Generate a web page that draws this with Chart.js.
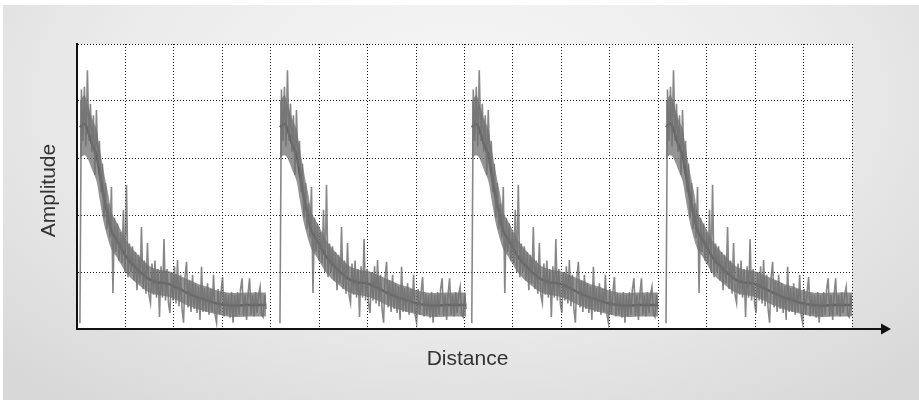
<!DOCTYPE html>
<html>
<head>
<meta charset="utf-8">
<script src="https://cdn.jsdelivr.net/npm/chart.js@4.4.1/dist/chart.umd.min.js"></script>
<style>
  html, body { margin: 0; padding: 0; }
  body {
    width: 919px; height: 400px; overflow: hidden;
    background:
      linear-gradient(#fff, #fff) top left / 100% 5px no-repeat,
      linear-gradient(#fff, #fff) top left / 3px 100% no-repeat,
      radial-gradient(ellipse 70% 95% at 50% 25%, #f7f7f7 0%, #ebebeb 55%, #d8d8d8 100%);
  }
  #box { position: absolute; left: 0; top: 0; width: 919px; height: 400px; }
</style>
</head>
<body>
<div id="box"><canvas id="echoChart" width="919" height="400"></canvas></div>
<script>
// one echo trace (the picture repeats it four times) in grid units 0..5
const cycleStarts = [0.06, 4.19, 8.15, 12.16];
const sampleStep = 0.031;
const echoValues = [
    0.10, 4.20, 3.30, 4.25, 3.20, 4.54, 3.30, 3.95, 3.10, 3.75,
    2.70, 3.84, 2.85, 3.30, 2.40, 2.90, 1.95, 2.56, 1.75, 2.20,
    1.60, 2.49, 0.63, 1.95, 1.35, 1.85, 1.20, 1.70, 1.16, 2.09,
    1.00, 2.53, 0.91, 1.50, 1.00, 1.45, 0.85, 1.35, 0.68, 1.30,
    0.80, 1.79, 0.70, 1.20, 0.62, 1.51, 0.60, 0.46, 1.15, 0.60,
    1.20, 0.55, 1.05, 0.21, 1.10, 0.55, 1.58, 0.50, 1.05, 0.45,
    0.28, 1.00, 0.50, 1.10, 0.45, 1.21, 0.40, 0.95, 0.35, 0.11,
    0.90, 1.18, 0.38, 0.85, 0.30, 0.95, 0.35, 0.80, 0.28, 0.75,
    0.16, 1.09, 0.30, 0.72, 0.30, 0.80, 0.25, 0.70, 0.30, 0.95,
    0.25, 0.11, 0.70, 0.25, 0.65, 0.91, 0.22, 0.62, 0.25, 0.60,
    0.20, 0.65, 0.11, 0.60, 0.22, 0.65, 0.25, 0.70, 0.89, 0.22,
    0.60, 0.16, 0.62, 0.89, 0.25, 0.60, 0.22, 0.65, 0.28, 0.60,
    0.74, 0.25, 0.21, 0.60, 0.35
];
// smoothed envelope (dark line) and the dense grey band around it, sample index -> value
const trendIndex = [0, 3, 5, 8, 11, 13, 16, 19, 21, 24, 27, 31, 37, 45, 51, 58, 65, 71, 78, 85, 91, 98, 105, 111, 118, 124];
const trendValues = [3.54, 3.60, 3.50, 3.25, 3.05, 2.74, 2.30, 1.95, 1.72, 1.58, 1.45, 1.26, 1.08, 0.89, 0.82, 0.80, 0.72, 0.64, 0.56, 0.50, 0.45, 0.42, 0.41, 0.42, 0.42, 0.42];
const bandUpper = [4.00, 4.10, 3.95, 3.70, 3.50, 3.20, 2.75, 2.35, 2.05, 1.90, 1.75, 1.55, 1.35, 1.13, 1.05, 1.02, 0.95, 0.88, 0.80, 0.74, 0.68, 0.64, 0.63, 0.64, 0.64, 0.64];
const bandLower = [3.00, 3.05, 3.00, 2.80, 2.60, 2.30, 1.85, 1.55, 1.40, 1.28, 1.15, 0.98, 0.82, 0.66, 0.60, 0.57, 0.50, 0.42, 0.35, 0.30, 0.26, 0.22, 0.21, 0.22, 0.22, 0.22];

const xMax = 16;
const yMax = 5;

function cyclePoints(start, indexes, values) {
    return values.map((v, i) => ({ x: start + indexes[i] * sampleStep, y: v }));
}

function buildSeries(indexes, values) {
    const out = [];
    cycleStarts.forEach((start) => {
        out.push(...cyclePoints(start, indexes, values));
        out.push({ x: start + 3.9, y: null });
    });
    return out;
}

const echoData = buildSeries(echoValues.map((_, i) => i), echoValues);
const trendData = buildSeries(trendIndex, trendValues);

const bandDatasets = [];
cycleStarts.forEach((start) => {
    bandDatasets.push({
        label: 'band low',
        data: cyclePoints(start, trendIndex, bandLower),
        borderWidth: 0,
        pointRadius: 0,
        tension: 0.3,
        fill: false
    });
    bandDatasets.push({
        label: 'band high',
        data: cyclePoints(start, trendIndex, bandUpper),
        borderWidth: 0,
        pointRadius: 0,
        tension: 0.3,
        backgroundColor: 'rgba(112, 112, 112, 0.75)',
        fill: '-1'
    });
});

const decorPlugin = {
    id: 'decor',
    beforeDraw(chart) {
        const { ctx, chartArea: a } = chart;
        ctx.save();
        ctx.fillStyle = '#ffffff';
        ctx.fillRect(a.left, a.top, a.right - a.left, a.bottom - a.top);
        ctx.restore();
    },
    afterDraw(chart) {
        const { ctx, chartArea: a } = chart;
        ctx.save();
        // x axis arrow
        ctx.strokeStyle = '#111';
        ctx.fillStyle = '#111';
        ctx.lineWidth = 2;
        ctx.beginPath();
        ctx.moveTo(a.right, a.bottom);
        ctx.lineTo(a.right + 32, a.bottom);
        ctx.stroke();
        ctx.beginPath();
        ctx.moveTo(a.right + 39, a.bottom);
        ctx.lineTo(a.right + 29, a.bottom - 5.5);
        ctx.lineTo(a.right + 29, a.bottom + 5.5);
        ctx.closePath();
        ctx.fill();
        // axis titles
        ctx.fillStyle = '#333';
        ctx.font = '21px "Liberation Sans", Arial, sans-serif';
        ctx.textAlign = 'center';
        ctx.textBaseline = 'middle';
        ctx.fillText('Distance', (a.left + a.right) / 2 + 3, a.bottom + 30);
        ctx.translate(a.left - 28, (a.top + a.bottom) / 2 + 4);
        ctx.rotate(-Math.PI / 2);
        ctx.fillText('Amplitude', 0, 0);
        ctx.restore();
    }
};

const axisStyle = (max) => ({
    type: 'linear',
    min: 0,
    max: max,
    ticks: { display: false, stepSize: 1 },
    grid: { color: '#1a1a1a', lineWidth: 1, drawTicks: false },
    border: { display: true, color: '#111', width: 2, dash: [1, 2] }
});

new Chart(document.getElementById('echoChart'), {
    type: 'line',
    data: {
        datasets: [
            ...bandDatasets,
            {
                label: 'Echo',
                data: echoData,
                borderColor: 'rgba(105, 105, 105, 0.8)',
                borderWidth: 1.6,
                pointRadius: 0,
                tension: 0,
                spanGaps: false,
                fill: false
            },
            {
                label: 'Trend',
                data: trendData,
                borderColor: 'rgba(38, 38, 38, 0.9)',
                borderWidth: 2.5,
                pointRadius: 0,
                tension: 0.4,
                spanGaps: false,
                fill: false
            }
        ]
    },
    options: {
        responsive: false,
        animation: false,
        layout: { padding: { left: 77, right: 67, top: 44, bottom: 71 } },
        plugins: {
            legend: { display: false },
            tooltip: { enabled: false },
            filler: { propagate: false }
        },
        scales: {
            x: axisStyle(xMax),
            y: axisStyle(yMax)
        }
    },
    plugins: [decorPlugin]
});
</script>
</body>
</html>
